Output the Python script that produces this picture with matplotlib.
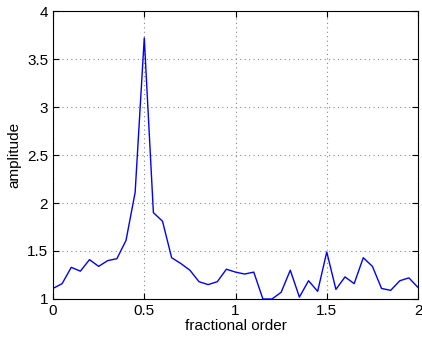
import numpy as np
import matplotlib
matplotlib.use("Agg")
import matplotlib.pyplot as plt

plt.rcParams['font.family'] = ['Liberation Sans', 'DejaVu Sans']

# fractional order grid and measured amplitude
order = np.arange(41) * 0.05
amplitude = [1.11, 1.16, 1.33, 1.29, 1.41, 1.34, 1.40, 1.42, 1.61, 2.11,
             3.72, 1.90, 1.81, 1.43, 1.37, 1.30, 1.18, 1.15, 1.18, 1.31,
             1.28, 1.26, 1.28, 1.00, 1.00, 1.07, 1.30, 1.02, 1.19, 1.08,
             1.49, 1.10, 1.23, 1.16, 1.43, 1.34, 1.11, 1.09, 1.19, 1.22,
             1.12]

xticks = [0, 0.5, 1, 1.5, 2]
xticklabels = ['0', '0.5', '1', '1.5', '2']
yticks = [1, 1.5, 2, 2.5, 3, 3.5, 4]
yticklabels = ['1', '1.5', '2', '2.5', '3', '3.5', '4']

fig = plt.figure(figsize=(4.22, 3.38), dpi=100)
ax = fig.add_axes([0.1256, 0.1154, 0.865, 0.852])
ax.plot(order, amplitude, color='#0000ff', linewidth=1.0)

ax.set_xlim(0, 2)
ax.set_ylim(1, 4)
ax.set_xticks(xticks)
ax.set_xticklabels(xticklabels)
ax.set_yticks(yticks)
ax.set_yticklabels(yticklabels)
ax.tick_params(direction='in', length=4, labelsize=11, top=True, right=True)
ax.grid(True, linestyle=(0, (1, 3)), color='#888888', linewidth=0.8)
for s in ax.spines.values():
    s.set_linewidth(0.8)

ax.set_xlabel('fractional order', fontsize=11, labelpad=1)
ax.set_ylabel('amplitude', fontsize=11, labelpad=4)

fig.savefig('out.png', dpi=100)
